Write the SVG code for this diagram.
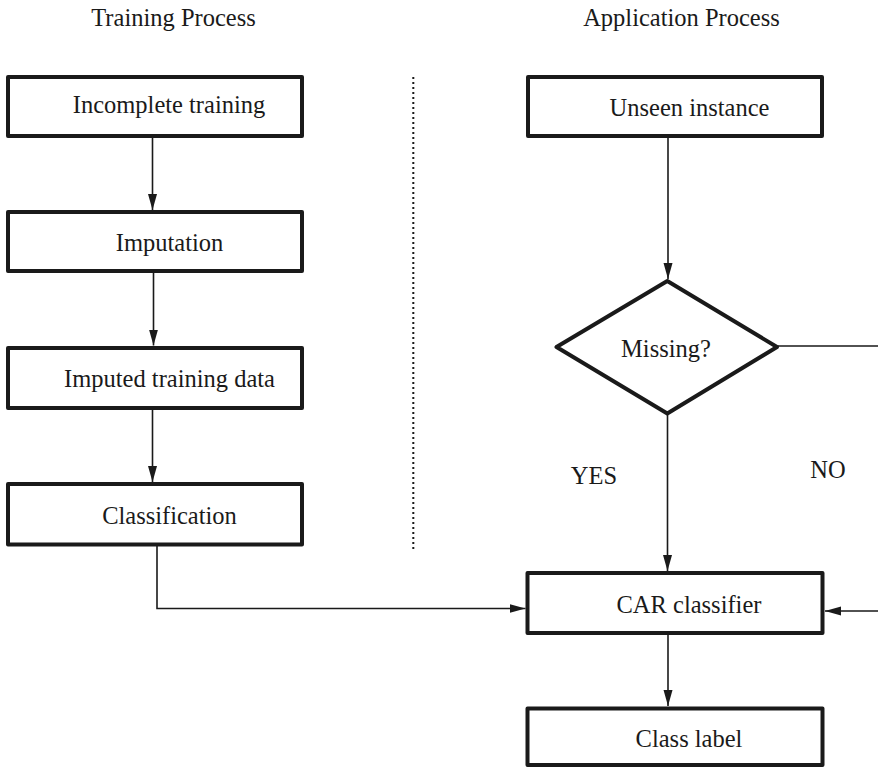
<svg xmlns="http://www.w3.org/2000/svg" width="878" height="769" viewBox="0 0 878 769">
<style>
  .box { fill: #fff; stroke: #1a1a1a; stroke-width: 4; stroke-linejoin: round; }
  .lbl { font-family: 'Liberation Serif', 'DejaVu Serif', serif; font-size: 24.5px; fill: #1a1a1a; text-anchor: middle; }
  .conn { fill: none; stroke: #1a1a1a; stroke-width: 1.6; }
  .sep { stroke: #1a1a1a; stroke-width: 2; stroke-dasharray: 2 3; fill: none; }
</style>
<defs>
  <marker id="arr" markerUnits="userSpaceOnUse" markerWidth="18" markerHeight="12" refX="16" refY="6" orient="auto">
    <path d="M0,1.5 L16,6 L0,10.5 Z" fill="#1a1a1a"/>
  </marker>
</defs>
<rect width="878" height="769" fill="#fff"/>

<g id="titles" font-family="Liberation Serif, serif">
  <text class="lbl" x="173.5" y="26">Training Process</text>
  <text class="lbl" x="681.5" y="26">Application Process</text>
</g>

<line id="separator" class="sep" x1="413.3" y1="77" x2="413.3" y2="551"/>

<g id="connectors" font-family="Liberation Serif, serif">
  <line class="conn" x1="152.5" y1="138" x2="152.5" y2="210" marker-end="url(#arr)"/>
  <line class="conn" x1="153.5" y1="273" x2="153.5" y2="345.5" marker-end="url(#arr)"/>
  <line class="conn" x1="152.5" y1="410" x2="152.5" y2="482" marker-end="url(#arr)"/>
  <polyline class="conn" points="157,546 157,608.5 525.5,608.5" marker-end="url(#arr)"/>
  <line class="conn" x1="668" y1="138" x2="668" y2="279" marker-end="url(#arr)"/>
  <line class="conn" x1="667.5" y1="415" x2="667.5" y2="571" marker-end="url(#arr)"/>
  <polyline class="conn" points="778,346 895,346 895,611 825,611" marker-end="url(#arr)"/>
  <line class="conn" x1="668" y1="635" x2="668" y2="706" marker-end="url(#arr)"/>
  <text class="lbl" x="594" y="483.5">YES</text>
  <text class="lbl" x="828" y="478">NO</text>
</g>

<g id="incomplete-training">
  <rect class="box" x="8" y="77" width="294" height="59"/>
  <text class="lbl" x="169" y="113">Incomplete training</text>
</g>
<g id="imputation">
  <rect class="box" x="8" y="212" width="294" height="59"/>
  <text class="lbl" x="169.5" y="250.5">Imputation</text>
</g>
<g id="imputed-training-data">
  <rect class="box" x="8" y="348" width="294" height="60"/>
  <text class="lbl" x="169.5" y="387">Imputed training data</text>
</g>
<g id="classification">
  <rect class="box" x="8" y="484" width="294" height="60.5"/>
  <text class="lbl" x="169.5" y="524">Classification</text>
</g>
<g id="unseen-instance">
  <rect class="box" x="528" y="77" width="294" height="59"/>
  <text class="lbl" x="689.5" y="116">Unseen instance</text>
</g>
<g id="missing">
  <polygon class="box" points="667.3,281 777,347 667.3,413.5 556.5,347"/>
  <text class="lbl" x="666" y="357">Missing?</text>
</g>
<g id="car-classifier">
  <rect class="box" x="527.5" y="573" width="295" height="60"/>
  <text class="lbl" x="689" y="613">CAR classifier</text>
</g>
<g id="class-label">
  <rect class="box" x="527.5" y="708.5" width="295" height="56.5"/>
  <text class="lbl" x="689" y="746.5">Class label</text>
</g>
</svg>
